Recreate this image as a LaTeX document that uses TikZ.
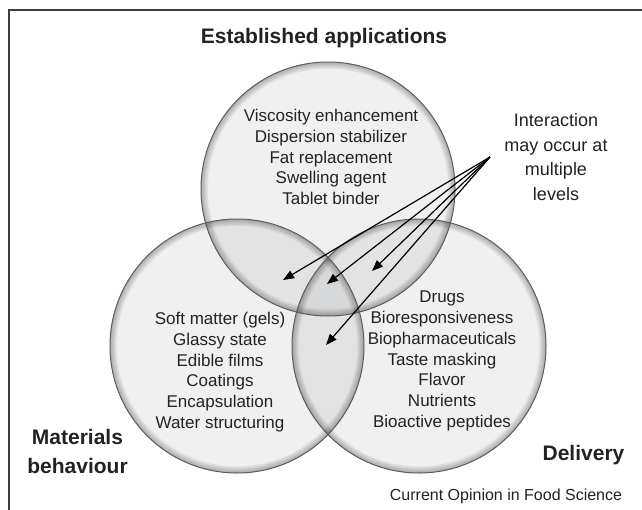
\documentclass[tikz,border=0pt]{standalone}
\usepackage{fontspec}
\setmainfont{Liberation Sans}
\usetikzlibrary{arrows.meta}

\definecolor{inkc}{HTML}{222222}
\definecolor{framec}{HTML}{3C3C3C}
\definecolor{discc}{HTML}{78797F}
\definecolor{edgec}{HTML}{5C5C5C}

\begin{document}
\begin{tikzpicture}[x=1pt,y=-1pt,
  frame/.style={draw=framec,line width=1.6pt},
  discfill/.style={fill=discc,fill opacity=0.11},
  discrim/.style={draw=black,draw opacity=0.045},
  discedge/.style={draw=edgec,line width=1pt},
  head/.style={text=inkc,font=\bfseries\fontsize{21}{29}\selectfont,align=center,inner sep=0pt},
  body/.style={text=inkc,font=\fontsize{17}{20.7}\selectfont,align=center,inner sep=0pt},
  note/.style={text=inkc,font=\fontsize{18}{24.7}\selectfont,align=center,inner sep=0pt},
  credit/.style={text=inkc,font=\fontsize{16}{19}\selectfont,inner sep=0pt},
  conn/.style={draw=black,line width=1.2pt,-{Triangle[length=11pt,width=8.5pt]}}]

\useasboundingbox (0,0) rectangle (642,509);
\draw[frame] (9,515) -- (9,10) -- (648,10);

% the three discs: light tint, inner shadow built from stacked rings, outline
\coordinate (ctop) at (328,189);
\coordinate (cleft) at (237,346);
\coordinate (cright) at (419,346);
\foreach \c in {ctop,cleft,cright} \fill[discfill] (\c) circle (127);
\foreach \c in {ctop,cleft,cright}
  \foreach \w in {1,2,...,7}
    \draw[discrim,line width=\w pt] (\c) circle ({127-\w/2});
\foreach \c in {ctop,cleft,cright} \draw[discedge] (\c) circle (127);

% headings
\node[head,anchor=base] (hEst) at (324,43) {Established applications};
\node[head] (hMat) at (77.5,451) {Materials\\behaviour};
\node[head,anchor=base] (hDel) at (583.5,460) {Delivery};

% contents of each disc
\node[body] (lTop) at (331,157) {Viscosity enhancement\\Dispersion stabilizer\\Fat replacement\\Swelling agent\\Tablet binder};
\node[body] (lLeft) at (220,372) {Soft matter (gels)\\Glassy state\\Edible films\\Coatings\\Encapsulation\\Water structuring};
\node[body] (lRight) at (442,361) {Drugs\\Bioresponsiveness\\Biopharmaceuticals\\Taste masking\\Flavor\\Nutrients\\Bioactive peptides};

% interaction note and its arrows
\node[note] (lInt) at (556,157) {Interaction\\may occur at\\multiple\\levels};
\coordinate (apex) at (490,157);
\coordinate (t1) at (283,280);
\coordinate (t2) at (327,284);
\coordinate (t3) at (372,271);
\coordinate (t4) at (326,345);
\foreach \t in {t1,t2,t3,t4} \draw[conn] (apex) -- (\t);

\node[credit,anchor=base] (cred) at (506,500) {Current Opinion in Food Science};
\end{tikzpicture}
\end{document}
